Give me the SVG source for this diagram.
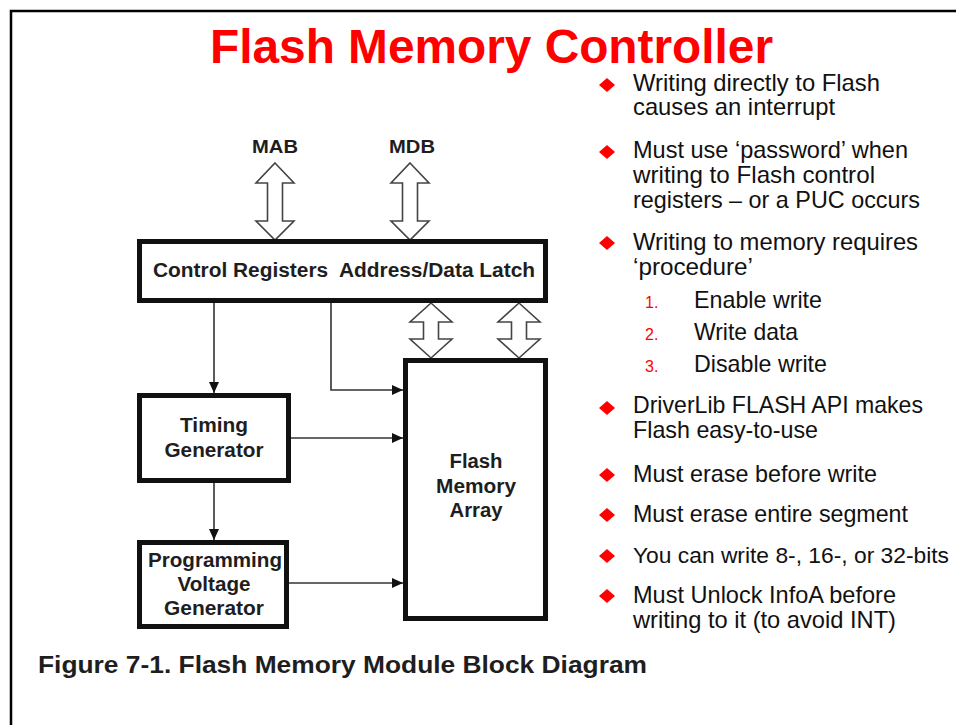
<svg xmlns="http://www.w3.org/2000/svg" width="956" height="725" viewBox="0 0 956 725">
<style>
.dg{font-family:"Liberation Sans",Arial,sans-serif;font-weight:bold;fill:#1e1e1e;}
.box{fill:#fff;stroke:#111;stroke-width:5;}
.bus{fill:#fff;stroke:#444;stroke-width:1.6;stroke-linejoin:miter;}
.conn{fill:none;stroke:#333;stroke-width:1.6;}
.bt{font-family:"Liberation Sans Narrow","Liberation Sans",Arial,sans-serif;font-size:24px;fill:#111;}
.num{font-family:"Liberation Sans Narrow","Liberation Sans",Arial,sans-serif;font-size:16px;fill:#ff0000;}
.dia{fill:#ff0000;}
</style>
<defs>
<marker id="ah" markerUnits="userSpaceOnUse" markerWidth="12" markerHeight="12" viewBox="0 0 12 12" refX="11" refY="6" orient="auto">
<path d="M0,1 L11,6 L0,11 Z" fill="#111"/>
</marker>
</defs>
<rect width="956" height="725" fill="#fff"/>
<path d="M11,725 V11 H956" fill="none" stroke="#000" stroke-width="2.5"/>
<text x="210" y="63" font-family="'Liberation Sans Narrow','Liberation Sans',Arial,sans-serif" font-weight="bold" font-size="48" fill="#ff0000" textLength="563" lengthAdjust="spacingAndGlyphs">Flash Memory Controller</text>

<g id="bus-mab">
<path class="bus" d="M275,163 L294,183 L282.5,183 L282.5,221 L294,221 L275,240 L256,221 L267.5,221 L267.5,183 L256,183 Z"/>
<text class="dg" x="275" y="153" font-size="19" text-anchor="middle" textLength="46" lengthAdjust="spacingAndGlyphs">MAB</text>
</g>
<g id="bus-mdb">
<path class="bus" d="M410,163 L429,183 L417.5,183 L417.5,221 L429,221 L410,240 L391,221 L402.5,221 L402.5,183 L391,183 Z"/>
<text class="dg" x="412" y="153" font-size="19" text-anchor="middle" textLength="46" lengthAdjust="spacingAndGlyphs">MDB</text>
</g>
<g id="bus-1">
<path class="bus" d="M431,303 L452,322 L438.5,322 L438.5,339 L452,339 L431,358 L410,339 L423.5,339 L423.5,322 L410,322 Z"/>
</g>
<g id="bus-2">
<path class="bus" d="M519,303 L540,322 L526.5,322 L526.5,339 L540,339 L519,358 L498,339 L511.5,339 L511.5,322 L498,322 Z"/>
</g>

<g id="control-registers">
<rect class="box" x="139.5" y="241.5" width="406" height="59"/>
<text class="dg" x="153" y="277" font-size="20" textLength="382" lengthAdjust="spacingAndGlyphs">Control Registers&#160; Address/Data Latch</text>
</g>

<g id="connectors">
<path class="conn" d="M214,303 V393" marker-end="url(#ah)"/>
<path class="conn" d="M331,303 V390 H403" marker-end="url(#ah)"/>
<path class="conn" d="M291,438 H403" marker-end="url(#ah)"/>
<path class="conn" d="M214,483 V540" marker-end="url(#ah)"/>
<path class="conn" d="M289,583 H403" marker-end="url(#ah)"/>
</g>

<g id="timing-generator">
<rect class="box" x="139.5" y="395.5" width="149" height="85"/>
<text class="dg" x="214" y="432" font-size="20" text-anchor="middle" textLength="68" lengthAdjust="spacingAndGlyphs">Timing</text>
<text class="dg" x="214" y="457" font-size="20" text-anchor="middle" textLength="99" lengthAdjust="spacingAndGlyphs">Generator</text>
</g>

<g id="programming-voltage-generator">
<rect class="box" x="139.5" y="542.5" width="147" height="84"/>
<text class="dg" x="215" y="567" font-size="20" text-anchor="middle" textLength="134" lengthAdjust="spacingAndGlyphs">Programming</text>
<text class="dg" x="214" y="591" font-size="20" text-anchor="middle" textLength="73" lengthAdjust="spacingAndGlyphs">Voltage</text>
<text class="dg" x="214" y="615" font-size="20" text-anchor="middle" textLength="100" lengthAdjust="spacingAndGlyphs">Generator</text>
</g>

<g id="flash-memory-array">
<rect class="box" x="405.5" y="360.5" width="140" height="258"/>
<text class="dg" x="476" y="468" font-size="20" text-anchor="middle" textLength="53" lengthAdjust="spacingAndGlyphs">Flash</text>
<text class="dg" x="476" y="493" font-size="20" text-anchor="middle" textLength="80" lengthAdjust="spacingAndGlyphs">Memory</text>
<text class="dg" x="476" y="517" font-size="20" text-anchor="middle" textLength="53" lengthAdjust="spacingAndGlyphs">Array</text>
</g>

<text class="dg" x="38" y="673" font-size="24" textLength="609" lengthAdjust="spacingAndGlyphs">Figure 7-1. Flash Memory Module Block Diagram</text>

<g id="bullets">
<path class="dia" d="M607,78 L615,85 L607,92 L599,85 Z"/>
<text class="bt" x="633" y="91" textLength="247" lengthAdjust="spacingAndGlyphs">Writing directly to Flash</text>
<text class="bt" x="633" y="115" textLength="202" lengthAdjust="spacingAndGlyphs">causes an interrupt</text>

<path class="dia" d="M607,145 L615,152 L607,159 L599,152 Z"/>
<text class="bt" x="633" y="158" textLength="275" lengthAdjust="spacingAndGlyphs">Must use ‘password’ when</text>
<text class="bt" x="633" y="183" textLength="242" lengthAdjust="spacingAndGlyphs">writing to Flash control</text>
<text class="bt" x="633" y="208" textLength="287" lengthAdjust="spacingAndGlyphs">registers – or a PUC occurs</text>

<path class="dia" d="M607,236 L615,243 L607,250 L599,243 Z"/>
<text class="bt" x="633" y="250" textLength="285" lengthAdjust="spacingAndGlyphs">Writing to memory requires</text>
<text class="bt" x="633" y="275" textLength="120" lengthAdjust="spacingAndGlyphs">‘procedure’</text>

<text class="num" x="645" y="308">1.</text>
<text class="bt" x="694" y="308" textLength="128" lengthAdjust="spacingAndGlyphs">Enable write</text>
<text class="num" x="645" y="340">2.</text>
<text class="bt" x="694" y="340" textLength="104" lengthAdjust="spacingAndGlyphs">Write data</text>
<text class="num" x="645" y="372">3.</text>
<text class="bt" x="694" y="372" textLength="133" lengthAdjust="spacingAndGlyphs">Disable write</text>

<path class="dia" d="M607,401 L615,408 L607,415 L599,408 Z"/>
<text class="bt" x="633" y="413" textLength="290" lengthAdjust="spacingAndGlyphs">DriverLib FLASH API makes</text>
<text class="bt" x="633" y="438" textLength="185" lengthAdjust="spacingAndGlyphs">Flash easy-to-use</text>

<path class="dia" d="M607,468 L615,475 L607,482 L599,475 Z"/>
<text class="bt" x="633" y="482" textLength="244" lengthAdjust="spacingAndGlyphs">Must erase before write</text>

<path class="dia" d="M607,508 L615,515 L607,522 L599,515 Z"/>
<text class="bt" x="633" y="522" textLength="275" lengthAdjust="spacingAndGlyphs">Must erase entire segment</text>

<path class="dia" d="M607,549 L615,556 L607,563 L599,556 Z"/>
<text class="bt" x="633" y="563" font-size="22.5" style="font-size:22.5px" textLength="316" lengthAdjust="spacingAndGlyphs">You can write 8-, 16-, or 32-bits</text>

<path class="dia" d="M607,589 L615,596 L607,603 L599,596 Z"/>
<text class="bt" x="633" y="603" textLength="263" lengthAdjust="spacingAndGlyphs">Must Unlock InfoA before</text>
<text class="bt" x="633" y="628" textLength="263" lengthAdjust="spacingAndGlyphs">writing to it (to avoid INT)</text>
</g>
</svg>
